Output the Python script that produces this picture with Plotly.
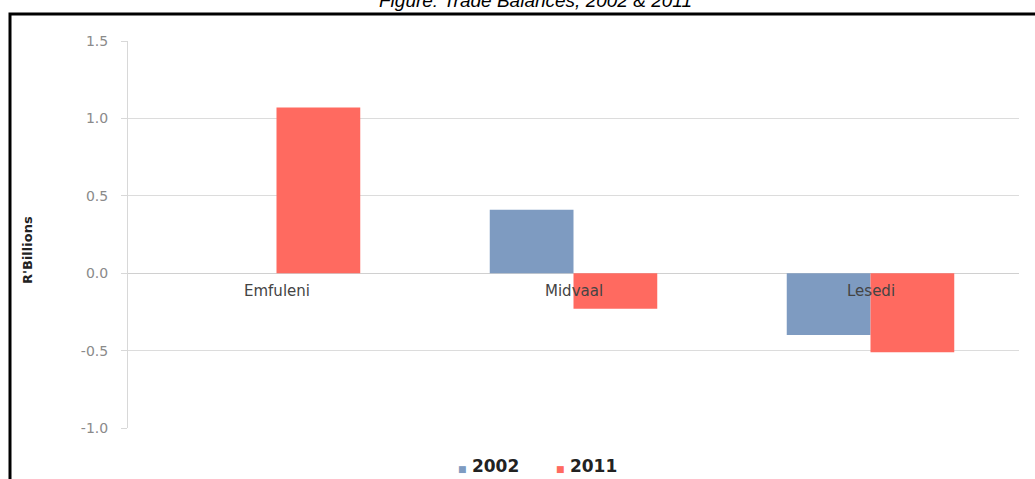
import plotly.graph_objects as go

# Trade balances by local municipality, R billions
municipalities = ["Emfuleni", "Midvaal", "Lesedi"]
years = ["2002", "2011"]
balance_2002 = [0.0, 0.41, -0.40]
balance_2011 = [1.07, -0.23, -0.51]
y_ticks = [-1.0, -0.5, 0.0, 0.5, 1.0, 1.5]
y_tick_text = ["-1.0", "-0.5", "0.0", "0.5", "1.0", "1.5"]

colors = {"2002": "#7e9bc1", "2011": "#ff6a60"}

W, H = 1035, 479
ML, MR, MT, MB = 128, 16, 41, 51
PW, PH = W - ML - MR, H - MT - MB


def px_x(p):
    return (p - ML) / PW


def px_y(p):
    return (H - MB - p) / PH


fig = go.Figure()
for year, values in zip(years, [balance_2002, balance_2011]):
    fig.add_trace(go.Bar(
        name=year, x=municipalities, y=values,
        marker=dict(color=colors[year], line=dict(width=0)),
        showlegend=False,
    ))

# category names sit on the zero line
for m in municipalities:
    fig.add_annotation(
        x=m, y=0, xref="x", yref="y", text=m, showarrow=False,
        yshift=-18, font=dict(family="DejaVu Sans", size=15, color="#444444"),
    )

# legend row
for year, cx in zip(years, [488, 586]):
    fig.add_annotation(
        x=px_x(cx), y=px_y(466), xref="paper", yref="paper", showarrow=False,
        xanchor="center", yanchor="middle",
        text="<span style='font-size:9px;color:%s'>■</span> <b>%s</b>" % (colors[year], year),
        font=dict(family="DejaVu Sans", size=17, color="#222222"),
    )

# y-axis title
fig.add_annotation(
    x=px_x(27), y=px_y(250), xref="paper", yref="paper", showarrow=False,
    xanchor="center", yanchor="middle",
    text="<b>R'Billions</b>", textangle=-90,
    font=dict(family="DejaVu Sans", size=13, color="#222222"),
)

# figure caption above the frame
fig.add_annotation(
    x=px_x(535), y=px_y(1), xref="paper", yref="paper", showarrow=False,
    xanchor="center", yanchor="middle",
    text="<i>Figure: Trade Balances, 2002 &amp; 2011</i>",
    font=dict(family="Liberation Sans", size=19, color="#000000"),
)

# outer frame
fig.add_shape(
    type="rect", xref="paper", yref="paper",
    x0=px_x(10), x1=px_x(1060), y0=px_y(500), y1=px_y(14),
    line=dict(color="#000000", width=3), fillcolor="rgba(0,0,0,0)",
    layer="above",
)

fig.update_layout(
    width=W, height=H,
    margin=dict(l=ML, r=MR, t=MT, b=MB),
    paper_bgcolor="white", plot_bgcolor="white",
    barmode="group", bargap=0.436, bargroupgap=0,
    font=dict(family="DejaVu Sans"),
    xaxis=dict(showticklabels=False, showgrid=False, zeroline=False,
               showline=False, ticks=""),
    yaxis=dict(
        range=[-1.0, 1.5], tickmode="array", tickvals=y_ticks,
        ticktext=y_tick_text, showgrid=True, gridcolor="#dcdcdc", gridwidth=1,
        zeroline=True, zerolinecolor="#d0d0d0", zerolinewidth=1,
        showline=True, linecolor="#d8d8d8", linewidth=1,
        ticks="outside", ticklen=6, tickcolor="#d8d8d8",
        tickfont=dict(family="DejaVu Sans", size=14, color="#8a8a8a"),
        ticklabelstandoff=10,
    ),
)

fig.write_html("out.html")
